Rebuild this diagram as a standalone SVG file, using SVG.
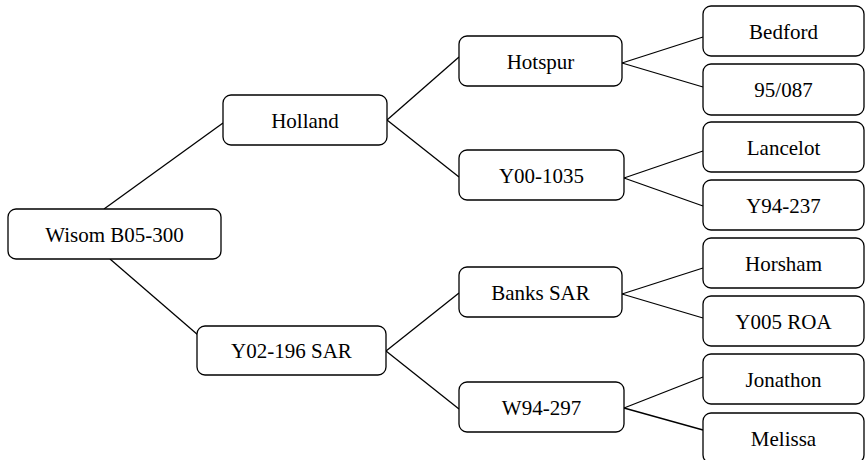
<svg xmlns="http://www.w3.org/2000/svg" width="865" height="460" viewBox="0 0 865 460">
<style>
.n rect{fill:#fff;stroke:#000;stroke-width:1.3}
.n text{font-family:"Liberation Serif","Times New Roman",serif;font-size:21px;fill:#000;text-anchor:middle}
#edges line{stroke:#000;stroke-width:1.3}
</style>
<rect width="865" height="460" fill="#fff"/>
<g id="edges">
<line x1="104" y1="209" x2="223" y2="123"/>
<line x1="110" y1="259" x2="198" y2="335"/>
<line x1="387" y1="120" x2="459" y2="57"/>
<line x1="387" y1="120" x2="459" y2="177"/>
<line x1="386" y1="351" x2="459" y2="293"/>
<line x1="386" y1="351" x2="459" y2="409"/>
<line x1="622" y1="63" x2="703" y2="37"/>
<line x1="622" y1="63" x2="703" y2="87"/>
<line x1="624" y1="178" x2="703" y2="151"/>
<line x1="624" y1="178" x2="703" y2="206"/>
<line x1="622" y1="294" x2="703" y2="268"/>
<line x1="622" y1="294" x2="703" y2="318"/>
<line x1="624" y1="408" x2="703" y2="377"/>
<line x1="624" y1="408" x2="703" y2="430"/>
</g>
<g id="n-root" class="n"><rect x="8" y="209" width="213" height="50" rx="8"/><text x="114.5" y="241.5">Wisom B05-300</text></g>
<g id="n-holland" class="n"><rect x="223" y="95" width="164" height="50" rx="8"/><text x="305" y="127.5">Holland</text></g>
<g id="n-y02" class="n"><rect x="197" y="326" width="189" height="49" rx="8"/><text x="291.5" y="358">Y02-196 SAR</text></g>
<g id="n-hotspur" class="n"><rect x="459" y="36" width="163" height="50" rx="8"/><text x="540.5" y="68.5">Hotspur</text></g>
<g id="n-y00" class="n"><rect x="459" y="150" width="165" height="50" rx="8"/><text x="541.5" y="182.5">Y00-1035</text></g>
<g id="n-banks" class="n"><rect x="459" y="267" width="163" height="50" rx="8"/><text x="540.5" y="299.5">Banks SAR</text></g>
<g id="n-w94" class="n"><rect x="459" y="382" width="165" height="50" rx="8"/><text x="541.5" y="414.5">W94-297</text></g>
<g id="n-bedford" class="n"><rect x="703" y="6" width="161" height="50" rx="8"/><text x="783.5" y="38.5">Bedford</text></g>
<g id="n-95087" class="n"><rect x="703" y="64" width="161" height="51" rx="8"/><text x="783.5" y="96.5">95/087</text></g>
<g id="n-lancelot" class="n"><rect x="703" y="122" width="161" height="50" rx="8"/><text x="783.5" y="154.5">Lancelot</text></g>
<g id="n-y94" class="n"><rect x="703" y="180" width="161" height="50" rx="8"/><text x="783.5" y="212.5">Y94-237</text></g>
<g id="n-horsham" class="n"><rect x="703" y="238" width="161" height="50" rx="8"/><text x="783.5" y="270.5">Horsham</text></g>
<g id="n-y005" class="n"><rect x="703" y="296" width="161" height="50" rx="8"/><text x="783.5" y="328.5">Y005 ROA</text></g>
<g id="n-jonathon" class="n"><rect x="703" y="354" width="161" height="50" rx="8"/><text x="783.5" y="386.5">Jonathon</text></g>
<g id="n-melissa" class="n"><rect x="703" y="413" width="161" height="50" rx="8"/><text x="783.5" y="445.5">Melissa</text></g>
</svg>
